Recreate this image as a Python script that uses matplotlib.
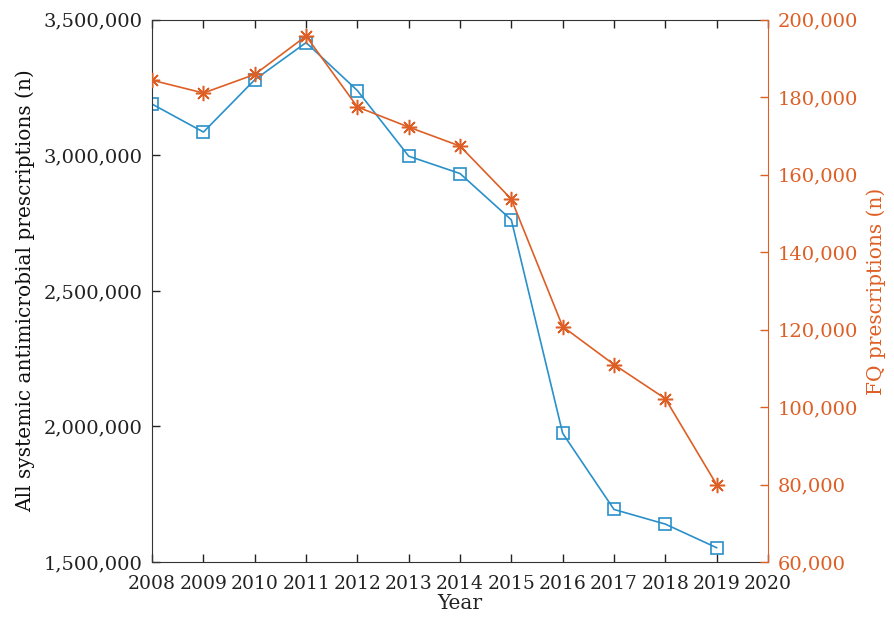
import matplotlib
matplotlib.use('Agg')
import matplotlib.pyplot as plt
from matplotlib.ticker import FuncFormatter

plt.rcParams['font.family'] = 'DejaVu Serif'

# Data
years = [2008, 2009, 2010, 2011, 2012, 2013, 2014, 2015, 2016, 2017, 2018, 2019]
all_rx = [3189000, 3086000, 3279000, 3416000, 3239000, 2997000,
          2933000, 2762000, 1975000, 1694000, 1640000, 1553000]
fq_rx = [184400, 181100, 185900, 195800, 177500, 172300,
         167400, 153700, 120800, 111000, 102200, 80000]

x_ticks = list(range(2008, 2021))
left_ticks = [1500000, 2000000, 2500000, 3000000, 3500000]
right_ticks = [60000, 80000, 100000, 120000, 140000, 160000, 180000, 200000]

blue = '#2a90c9'
orange = '#de5f25'
axis_gray = '#333333'

fig = plt.figure(figsize=(8.95, 6.19), dpi=100)
ax1 = fig.add_axes([0.170, 0.092, 0.688, 0.876])
ax2 = ax1.twinx()

ax1.plot(years, all_rx, color=blue, lw=1.2, marker='s', markersize=9,
         markerfacecolor='none', markeredgecolor=blue, markeredgewidth=1.2)
ax2.plot(years, fq_rx, color=orange, lw=1.2, marker=(8, 2, 0), markersize=11,
         markeredgecolor=orange, markeredgewidth=1.1)

fmt = FuncFormatter(lambda v, p: f'{int(v):,}')

ax1.set_xlim(2008, 2020)
ax1.set_xticks(x_ticks)
ax1.set_ylim(1500000, 3500000)
ax1.set_yticks(left_ticks)
ax1.yaxis.set_major_formatter(fmt)
ax1.tick_params(axis='both', direction='in', length=6, labelsize=14,
                colors='#222222', top=True, width=1)
ax1.tick_params(axis='x', pad=9, labelsize=13.5)
ax1.tick_params(axis='y', pad=7)
for s in ['left', 'bottom', 'top']:
    ax1.spines[s].set_color(axis_gray)
ax1.spines['right'].set_visible(False)

ax2.set_ylim(60000, 200000)
ax2.set_yticks(right_ticks)
ax2.yaxis.set_major_formatter(fmt)
ax2.tick_params(axis='y', direction='in', length=6, labelsize=14,
                colors=orange, width=1, pad=7)
for s in ['left', 'bottom', 'top']:
    ax2.spines[s].set_visible(False)
ax2.spines['right'].set_color(orange)

ax1.set_xlabel('Year', fontsize=14.5, color='#222222', labelpad=1)
ax1.set_ylabel('All systemic antimicrobial prescriptions (n)', fontsize=14.5,
               color='#111111', labelpad=6)
ax2.set_ylabel('FQ prescriptions (n)', fontsize=14.5, color=orange, labelpad=6)

fig.savefig('out.png', dpi=100)
